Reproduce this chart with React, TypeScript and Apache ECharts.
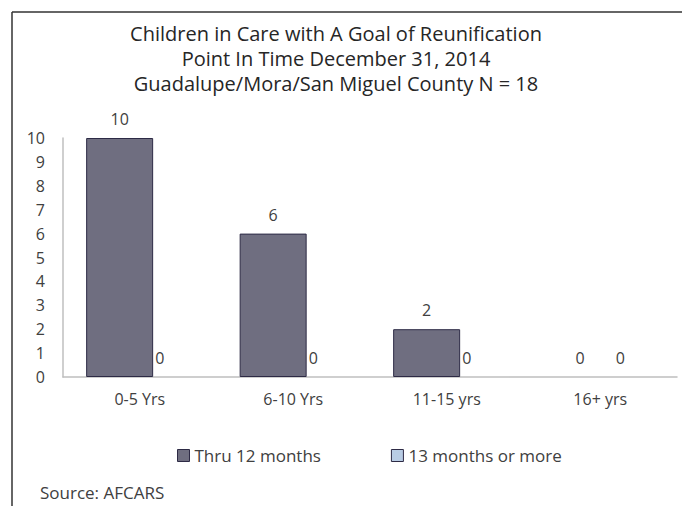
import React, { useEffect, useRef } from "react";
import * as echarts from "echarts";

const titleLines = [
  "Children in Care with A Goal of Reunification",
  "Point In Time December 31, 2014",
  "Guadalupe/Mora/San Miguel County N = 18",
];
const categories = ["0-5 Yrs", "6-10 Yrs", "11-15 yrs", "16+ yrs"];
const seriesNames = ["Thru 12 months", "13 months or more"];
const thru12 = [10, 6, 2, 0];
const more13 = [0, 0, 0, 0];
const sourceText = "Source: AFCARS";

const FONT = "'Open Sans', Lato, sans-serif";
const TXT = "#404040";
const BORDER = "#2d2a45";

const withBorders = (vals: number[]) =>
  vals.map((v) => ({ value: v, itemStyle: { borderWidth: v === 0 ? 0 : 1 } }));

export default function App() {
  const ref = useRef<HTMLDivElement>(null);
  useEffect(() => {
    document.body.style.margin = "0";
    const chart = echarts.init(ref.current!, null, { renderer: "svg" });
    const labelCfg = {
      show: true,
      position: "top" as const,
      distance: 11,
      color: TXT,
      fontSize: 16,
      fontFamily: FONT,
    };
    chart.setOption({
      animation: false,
      backgroundColor: "#ffffff",
      title: {
        text: titleLines.join("\n"),
        left: 331,
        textAlign: "center",
        top: 16,
        textStyle: {
          fontSize: 20,
          fontWeight: "normal",
          color: "#262626",
          fontFamily: FONT,
          lineHeight: 25,
        },
      },
      legend: {
        left: 172,
        top: 442,
        itemWidth: 12,
        itemHeight: 12,
        itemGap: 70,
        icon: "rect",
        textStyle: { color: TXT, fontSize: 17, fontFamily: FONT },
        data: [
          { name: seriesNames[0], itemStyle: { borderColor: BORDER, borderWidth: 1 } },
          { name: seriesNames[1], itemStyle: { borderColor: BORDER, borderWidth: 1 } },
        ],
      },
      grid: { left: 63, right: 5, top: 138, bottom: 129, containLabel: false },
      xAxis: {
        type: "category",
        data: categories,
        axisLine: { lineStyle: { color: "#bfbfbf", width: 1.5 } },
        axisTick: { show: false },
        axisLabel: { color: TXT, fontSize: 16, fontFamily: FONT, margin: 14 },
      },
      yAxis: {
        type: "value",
        min: 0,
        max: 10,
        interval: 1,
        splitLine: { show: false },
        axisLine: { show: true, lineStyle: { color: "#bfbfbf", width: 1.5 } },
        axisTick: { show: false },
        axisLabel: { color: TXT, fontSize: 16, fontFamily: FONT, margin: 18 },
      },
      series: [
        {
          name: seriesNames[0],
          type: "bar",
          data: withBorders(thru12),
          barWidth: 67,
          barGap: "-40%",
          itemStyle: { color: "#6f6e80", borderColor: BORDER, borderWidth: 1 },
          label: labelCfg,
        },
        {
          name: seriesNames[1],
          type: "bar",
          data: withBorders(more13),
          barWidth: 67,
          itemStyle: { color: "#b8cce4", borderColor: BORDER, borderWidth: 1 },
          label: labelCfg,
        },
      ],
      graphic: [
        {
          type: "line",
          shape: { x1: 12, y1: 12, x2: 682, y2: 12 },
          style: { stroke: "#333", lineWidth: 1.5 },
        },
        {
          type: "line",
          shape: { x1: 12, y1: 12, x2: 12, y2: 506 },
          style: { stroke: "#333", lineWidth: 1.5 },
        },
        {
          type: "text",
          left: 40,
          top: 484,
          style: { text: sourceText, fill: TXT, fontSize: 17, fontFamily: FONT },
        },
      ],
    });
    return () => chart.dispose();
  }, []);
  return <div ref={ref} style={{ width: 682, height: 506 }} />;
}
